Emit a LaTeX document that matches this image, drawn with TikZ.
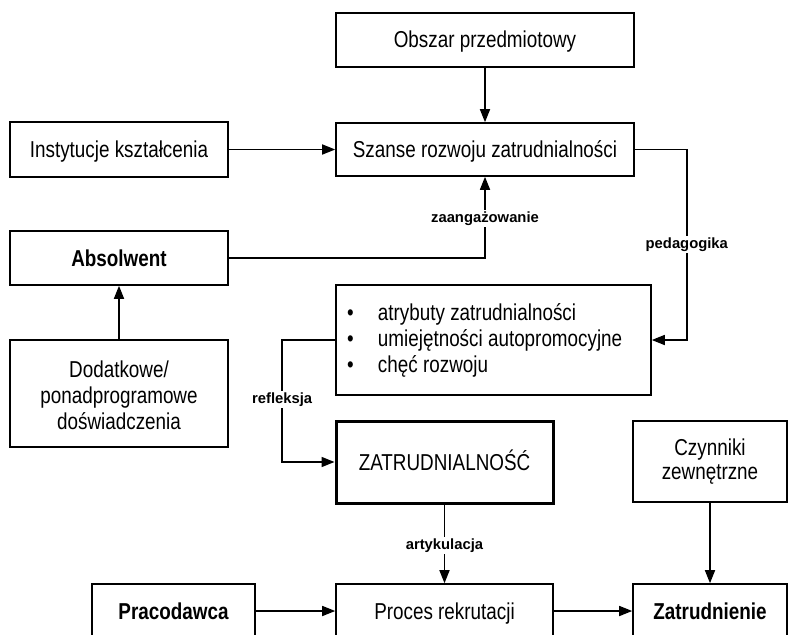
\documentclass[tikz,border=0pt]{standalone}
\usepackage{fontspec}
\setmainfont{Liberation Sans}[FakeStretch=0.82]
\newfontfamily\lblfont{Liberation Sans}
\usetikzlibrary{arrows.meta}

\tikzset{
  box/.style={draw, line width=1.6pt, inner sep=0pt, align=center,
    font=\fontsize{23}{26}\selectfont},
  oneline/.style={text height=16.5pt, text depth=0pt},
  thickbox/.style={box, line width=3pt},
  arr/.style={line width=1.6pt, -{Triangle[length=13pt,width=10pt]}},
  lbl/.style={fill=white, inner sep=1.5pt,
    font=\lblfont\bfseries\fontsize{14.8}{16}\selectfont},
}

\begin{document}
\begin{tikzpicture}[x=1pt, y=-1pt]
\useasboundingbox (0,0) rectangle (788,635);
\clip (0,0) rectangle (788,635);

% upper part
\node[box, oneline, minimum width=298pt, minimum height=54pt] (obs) at (485,39.7) {Obszar przedmiotowy};
\node[box, oneline, minimum width=298pt, minimum height=53pt] (sza) at (485,149.5) {Szanse rozwoju zatrudnialności};
\node[box, oneline, minimum width=218pt, minimum height=55pt] (ins) at (119,149.5) {Instytucje kształcenia};
\node[box, oneline, minimum width=218pt, minimum height=54pt] (abs) at (119,258) {\bfseries Absolwent};
\node[box, minimum width=218pt, minimum height=107pt] (dod) at (119,393.5)
  {\rule{0pt}{20pt}Dodatkowe/\\ponadprogramowe\\doświadczenia};

% list of attributes
\node[box, minimum width=315pt, minimum height=110pt, text width=295pt, align=flush left] (bul) at (493.5,340)
  {\makebox[32pt][l]{\hspace{1pt}•}atrybuty zatrudnialności\\
   \makebox[32pt][l]{\hspace{1pt}•}umiejętności autopromocyjne\\
   \makebox[32pt][l]{\hspace{1pt}•}chęć rozwoju};

% middle row
\node[thickbox, oneline, minimum width=217pt, minimum height=82pt] (zat) at (444.5,462) {ZATRUDNIALNOŚĆ};
\node[box, minimum width=154pt, minimum height=81pt, font=\fontsize{23}{24}\selectfont] (czy) at (710,461.5)
  {Czynniki\\zewnętrzne};

% bottom row
\node[box, oneline, minimum width=163pt, minimum height=54pt] (pra) at (173.5,611) {\bfseries Pracodawca};
\node[box, oneline, minimum width=217pt, minimum height=54pt] (pro) at (444.5,611) {Proces rekrutacji};
\node[box, oneline, minimum width=154pt, minimum height=54pt] (ztr) at (710,611) {\bfseries Zatrudnienie};

% connectors
\draw[arr] (obs.south) -- (sza.north);
\draw[arr] (ins.east) -- (sza.west);
\draw[arr] (abs.east) -| (sza.south) node[lbl, pos=0.745] {zaangażowanie};
\draw[arr] (sza.east) -- ++(52,0) |- (bul.east) node[lbl, pos=0.25] {pedagogika};
\draw[arr] (dod.north) -- (abs.south);
\draw[arr] (bul.west) -- ++(-53,0) |- (zat.west) node[lbl, pos=0.245] {refleksja};
\draw[arr] (zat.south) -- (pro.north) node[lbl, pos=0.52] {artykulacja};
\draw[arr] (czy.south) -- (ztr.north);
\draw[arr] (pra.east) -- (pro.west);
\draw[arr] (pro.east) -- (ztr.west);
\end{tikzpicture}
\end{document}
